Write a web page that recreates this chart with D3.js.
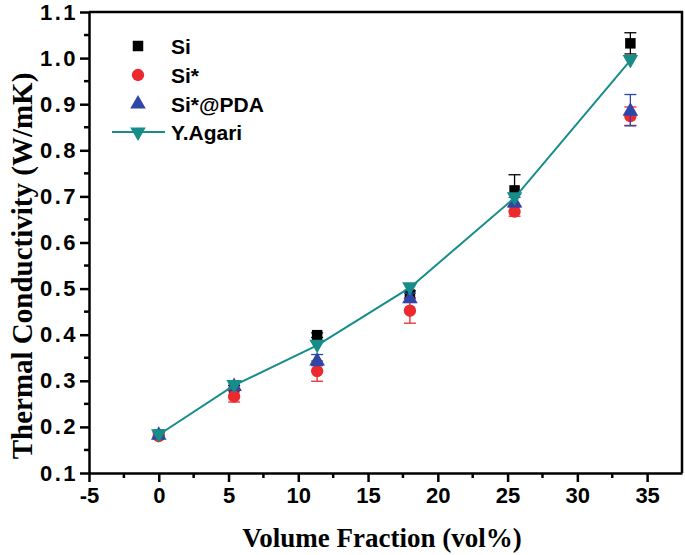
<!DOCTYPE html>
<meta charset="utf-8">
<script src="https://d3js.org/d3.v7.min.js"></script>
<style>
  body { margin: 0; background: #fff; }
</style>
<div id="chart"></div>
<script>
// data
var fractions = [0, 5.4, 11.35, 18, 25.5, 33.8];
var si      = [0.183, 0.285, 0.399, 0.487, 0.713, 1.032];
var siErr   = [0.005, 0.005, 0.005, 0.008, 0.034, 0.023];
var siStar  = [0.180, 0.266, 0.321, 0.452, 0.667, 0.874];
var siStarErr = [0.005, 0.012, 0.022, 0.027, 0.010, 0.020];
var pda     = [0.184, 0.290, 0.345, 0.480, 0.688, 0.887];
var pdaErr  = [0.008, 0.008, 0.012, 0.010, 0.010, 0.034];
var agari   = [0.183, 0.290, 0.377, 0.502, 0.697, 0.995];
var xTicks = [-5, 0, 5, 10, 15, 20, 25, 30, 35];
var yTicks = [0.1, 0.2, 0.3, 0.4, 0.5, 0.6, 0.7, 0.8, 0.9, 1.0, 1.1];
var seriesNames = ["Si", "Si*", "Si*@PDA", "Y.Agari"];

var W = 685, H = 555;
var margin = {top: 12, right: 3, bottom: 82, left: 89};
var width = W - margin.left - margin.right,
    height = H - margin.top - margin.bottom;

var svg = d3.select("#chart").append("svg")
    .attr("width", W).attr("height", H)
    .style("font-family", "'Liberation Sans', Arial, sans-serif");

var g = svg.append("g")
    .attr("transform", "translate(" + margin.left + "," + margin.top + ")");

var x = d3.scaleLinear().domain([-5, 37.5]).range([0, width]);
var y = d3.scaleLinear().domain([0.1, 1.1]).range([height, 0]);

// frame (top / right)
g.append("path")
  .attr("d", "M0,0H" + width + "V" + height)
  .attr("fill", "none").attr("stroke", "#000").attr("stroke-width", 2.5);

// minor ticks
var xMinor = d3.range(-2.5, 37.5, 5);
var yMinor = d3.range(0.15, 1.1, 0.1);
g.selectAll(".xminor").data(xMinor).enter().append("line")
  .attr("x1", d => x(d)).attr("x2", d => x(d))
  .attr("y1", height).attr("y2", height + 5)
  .attr("stroke", "#000").attr("stroke-width", 2.5);
g.selectAll(".yminor").data(yMinor).enter().append("line")
  .attr("x1", -5).attr("x2", 0)
  .attr("y1", d => y(d)).attr("y2", d => y(d))
  .attr("stroke", "#000").attr("stroke-width", 2.5);

var xAxis = g.append("g")
  .attr("transform", "translate(0," + height + ")")
  .call(d3.axisBottom(x).tickValues(xTicks).tickFormat(d => String(d))
        .tickSize(9).tickPadding(5).tickSizeOuter(0));
var yAxis = g.append("g")
  .call(d3.axisLeft(y).tickValues(yTicks).tickFormat(d => d.toFixed(1))
        .tickSize(9).tickPadding(4).tickSizeOuter(0));

[xAxis, yAxis].forEach(function(a) {
  a.select(".domain").attr("stroke-width", 2.5);
  a.selectAll(".tick line").attr("stroke-width", 2.5);
  a.selectAll("text")
    .attr("fill", "#000")
    .style("font-family", "'Liberation Sans', Arial, sans-serif")
    .style("font-weight", "bold")
    .style("font-size", "22px");
});
yAxis.selectAll("text").style("letter-spacing", "2.5px").attr("dx", "2px");

// axis titles
svg.append("text")
  .attr("x", 382).attr("y", 547)
  .attr("text-anchor", "middle")
  .style("font-family", "'Liberation Serif', 'Times New Roman', serif")
  .style("font-weight", "bold").style("font-size", "27px")
  .text("Volume Fraction (vol%)");
svg.append("text")
  .attr("transform", "translate(32,266) rotate(-90)")
  .attr("text-anchor", "middle")
  .style("font-family", "'Liberation Serif', 'Times New Roman', serif")
  .style("font-weight", "bold").style("font-size", "29px")
  .text("Thermal Conductivity (W/mK)");

var colors = {si: "#000000", siStar: "#ec2a2e", pda: "#2e47a6", agari: "#178d8a"};

function errorBars(vals, errs, color) {
  var eg = g.append("g").attr("stroke", color).attr("stroke-width", 1.3);
  vals.forEach(function(v, i) {
    var cx = x(fractions[i]);
    eg.append("line").attr("x1", cx).attr("x2", cx)
      .attr("y1", y(v - errs[i])).attr("y2", y(v + errs[i]));
    [v - errs[i], v + errs[i]].forEach(function(e) {
      eg.append("line").attr("x1", cx - 6).attr("x2", cx + 6)
        .attr("y1", y(e)).attr("y2", y(e));
    });
  });
}

var sq = d3.symbol().type(d3.symbolSquare).size(110);
var circ = d3.symbol().type(d3.symbolCircle).size(120);
var tri = d3.symbol().type(d3.symbolTriangle).size(105);

// Si
errorBars(si, siErr, colors.si);
g.selectAll(".si").data(si).enter().append("path")
  .attr("d", sq)
  .attr("transform", (d, i) => "translate(" + x(fractions[i]) + "," + y(d) + ")")
  .attr("fill", colors.si);

// Si*
errorBars(siStar, siStarErr, colors.siStar);
g.selectAll(".sistar").data(siStar).enter().append("path")
  .attr("d", circ)
  .attr("transform", (d, i) => "translate(" + x(fractions[i]) + "," + y(d) + ")")
  .attr("fill", colors.siStar);

// Si*@PDA
errorBars(pda, pdaErr, colors.pda);
g.selectAll(".pda").data(pda).enter().append("path")
  .attr("d", tri)
  .attr("transform", (d, i) => "translate(" + x(fractions[i]) + "," + (y(d) + 1) + ")")
  .attr("fill", colors.pda);

// Y.Agari model
var line = d3.line().x((d, i) => x(fractions[i])).y(d => y(d));
g.append("path").datum(agari)
  .attr("d", line).attr("fill", "none")
  .attr("stroke", colors.agari).attr("stroke-width", 2);
g.selectAll(".agari").data(agari).enter().append("path")
  .attr("d", tri)
  .attr("transform", (d, i) => "translate(" + x(fractions[i]) + "," + (y(d) - 1) + ") rotate(180)")
  .attr("fill", colors.agari);

// legend
var legend = svg.append("g");
var ly = [46, 75, 104, 132];
var shapes = [sq, circ, tri, tri];
var fills = [colors.si, colors.siStar, colors.pda, colors.agari];
seriesNames.forEach(function(name, i) {
  if (i === 3) {
    legend.append("line").attr("x1", 112).attr("x2", 165)
      .attr("y1", ly[i]).attr("y2", ly[i])
      .attr("stroke", colors.agari).attr("stroke-width", 2);
  }
  legend.append("path").attr("d", shapes[i])
    .attr("transform", "translate(138," + ly[i] + ")" + (i === 3 ? " rotate(180)" : ""))
    .attr("fill", fills[i]);
  legend.append("text")
    .attr("x", 171).attr("y", ly[i] + 7.5)
    .style("font-weight", "bold").style("font-size", "21px")
    .text(name);
});
</script>
